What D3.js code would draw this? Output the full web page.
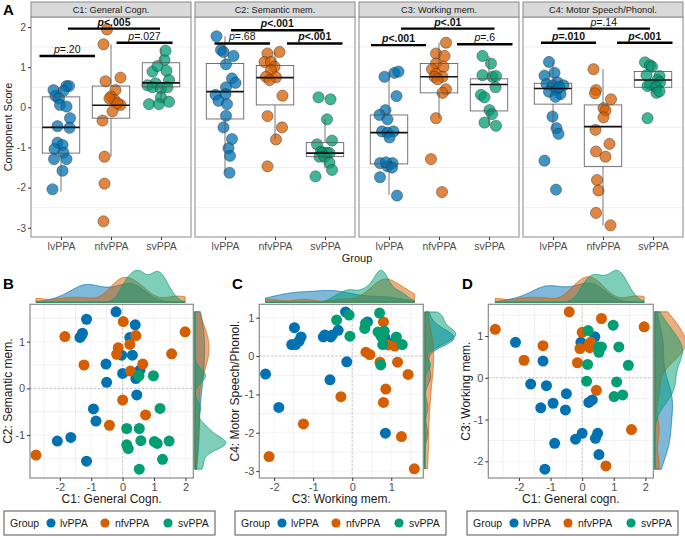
<!DOCTYPE html>
<html><head><meta charset="utf-8">
<script src="https://cdn.jsdelivr.net/npm/d3@7"></script>
<style>
body{margin:0;background:#fff}
svg{display:block}
text{font-family:"Liberation Sans",Arial,sans-serif}
</style>
</head><body>
<svg id="chart" width="685" height="538"></svg>
<script>
// ---------------- DATA ----------------
const groups = ["lvPPA", "nfvPPA", "svPPA"];
const components = ["C1: General Cogn.", "C2: Semantic mem.", "C3: Working mem.", "C4: Motor Speech/Phonol."];
const scoreTicks = [-3, -2, -1, 0, 1, 2];

// Panel A: component scores per group (values) and horizontal jitter (in group units)
const c1Lv = [0.43,0.53,0.53,0.41,0.28,0.22,0.06,0.02,-0.27,-0.47,-0.51,-0.88,-0.94,-1.04,-1.13,-1.29,-1.29,-1.58,-2.04];
const c1LvJit = [-0.15,0.11,0.16,0.05,-0.11,-0.04,-0.02,0.11,0.18,-0.07,0.17,-0.07,0.03,-0.13,0.05,-0.14,0.11,0.03,-0.17];
const c1Nfv = [1.94,1.57,0.65,0.74,0.43,0.27,0.18,0.06,-0.1,-0.33,-1.23,-1.9,-2.84,0.22,0.1];
const c1NfvJit = [-0.08,-0.15,-0.11,0.19,0.09,0,0.07,0.19,0.03,-0.17,-0.13,-0.13,-0.15,-0.03,0.13];
const c1Sv = [0.89,1.18,1.41,1.03,0.91,0.68,0.6,0.55,0.5,0.47,0.5,0.25,0.08,0.08,0.14];
const c1SvJit = [-0.17,0.07,0.09,-0.07,0.11,0.16,-0.11,-0.27,-0.17,0,0.13,0,-0.24,-0.04,0.16];

const c2Lv = [1.77,1.43,1.38,1.28,1.07,0.72,0.61,0.5,0.31,0.33,0.16,0.08,-0.21,-0.5,-0.79,-1.02,-1.21,-1.63];
const c2LvJit = [-0.17,-0.08,-0.03,0.17,0.02,0.14,0.21,0.02,-0.19,0.01,-0.13,0.04,0.02,-0.03,0.14,0.07,0.1,0.09];
const c2Nfv = [1.38,1.34,1.13,1.13,1.01,0.93,0.76,0.75,0.68,0.29,-0.22,-0.5,-0.8,-1.47];
const c2NfvJit = [0.09,-0.15,-0.21,-0.08,-0.01,-0.08,-0.18,0.02,-0.11,0.15,-0.15,0.14,0.02,-0.15];
const c2Sv = [0.25,0.2,-0.3,-0.92,-0.83,-1.1,-1.14,-1.13,-1.14,-1.23,-1.23,-1.38,-1.56,-1.72];
const c2SvJit = [-0.13,0.11,0.04,-0.16,0.14,-0.08,-0.05,0.04,0.09,-0.11,-0.01,0.09,0.14,-0.19];

const c3Lv = [0.76,0.86,0.89,0.28,-0.07,-0.19,-0.3,-0.6,-0.63,-0.6,-0.75,-1.39,-1.47,-1.39,-1.37,-1.5,-1.74,-2.2];
const c3LvJit = [-0.09,0.11,0.19,0.15,-0.07,-0.19,-0.03,-0.14,-0.03,0.09,0.01,-0.18,-0.03,0.07,-0.06,0.06,-0.18,0.16];
const c3Nfv = [1.61,1.34,1.28,1.09,1.01,0.95,0.83,0.76,0.76,0.7,0.45,0.36,-0.27,-1.29,-2.11];
const c3NfvJit = [0.14,-0.06,0.11,-0.06,0.09,-0.14,-0.06,0.07,-0.09,-0.03,0.14,0.07,-0.06,-0.16,0.06];
const c3Sv = [1.28,1.09,0.8,0.76,0.78,0.5,0.31,0.25,-0.07,-0.17,-0.38,-0.46];
const c3SvJit = [-0.13,0.04,-0.13,0.07,0.14,0.13,-0.16,-0.09,0.01,0.06,-0.09,0.14];

const c4Lv = [1.13,0.79,0.86,0.58,0.62,0.55,0.55,0.39,0.43,0.33,0.26,0.5,-0.23,-0.52,-0.66,-1.33,-2.05];
const c4LvJit = [-0.08,-0.17,0.03,-0.13,0.09,-0.01,0.21,-0.08,0.07,0.15,0.05,0.12,-0.01,0.07,0.11,-0.17,0.06];
const c4Nfv = [0.95,0.43,0.35,0.2,-0.02,-0.08,-0.25,-0.56,-0.91,-1.1,-1.23,-1.81,-2.07,-2.63,-2.94];
const c4NfvJit = [-0.19,-0.14,-0.16,0.16,0.01,0.05,0.01,-0.15,0.13,-0.14,0.05,-0.12,-0.09,-0.14,0.15];
const c4Sv = [1.12,1.05,1.01,0.8,0.78,0.68,0.62,0.57,0.53,0.5,0.36,0.4,-0.27];
const c4SvJit = [-0.16,-0.06,-0.02,-0.13,0.13,0.09,0.14,-0.06,-0.11,0.06,0.07,0.13,-0.11];

// Box statistics [lower whisker, Q1, median, Q3, upper whisker] per group
const boxC1 = [[-2.1,-1.14,-0.5,0.26,0.53],[-1.23,-0.27,0.05,0.53,1.57],[0.12,0.51,0.61,1.11,1.47]];
const boxC2 = [[-1.63,-0.29,0.39,1.09,1.77],[-0.8,0.06,0.74,1.04,1.38],[-1.52,-1.23,-1.14,-0.88,-0.3]];
const boxC3 = [[-2.18,-1.41,-0.63,-0.19,0.89],[-0.27,0.36,0.76,1.09,1.61],[-0.46,-0.09,0.57,0.71,1.28]];
const boxC4 = [[-0.66,0.08,0.47,0.6,1.13],[-2.94,-1.47,-0.48,0.06,0.95],[0.36,0.5,0.68,0.89,1.12]];

// Significance brackets: [from (group units), to, score level, p text, bold]
const sigC1 = [[0.57,1.68,1.28,"=.20",false],[1.14,2.98,1.96,"<.005",true],[2.11,3.23,1.61,"=.027",false]];
const sigC2 = [[0.79,1.9,1.59,"=.68",false],[1.12,2.97,1.92,"<.001",true],[2.24,3.35,1.59,"<.001",true]];
const sigC3 = [[0.64,1.74,1.55,"<.001",true],[1.24,3.11,1.96,"<.01",true],[2.36,3.47,1.57,"=.6",false]];
const sigC4 = [[0.76,1.86,1.61,"=.010",true],[1.09,2.94,1.96,"=.14",false],[2.28,3.39,1.61,"<.001",true]];

// Panel B: C1 (x) vs C2 (y)
const bLv = [[-0.21,1.64],[-1.15,1.48],[0.4,1.36],[-1.28,1.18],[-1.3,1.14],[-1.36,1.09],[0.23,1.09],[-0.03,0.71],[0.31,0.71],[-0.53,0.52],[0,0.32],[0.55,0.39],[0.42,0.21],[-0.51,0.13],[0.45,-0.14],[-0.93,-0.44],[-0.85,-0.7],[-1.65,-1.05],[-2.08,-1.13],[-1.15,-1.56]];
const bNfv = [[0.02,1.43],[-1.84,1.11],[1.99,1.21],[0.42,1.13],[0.23,0.94],[-0.14,0.87],[-0.19,0.73],[1.56,0.74],[-1.23,0.5],[0.64,0.52],[0.25,0.37],[0,-0.25],[0.73,-0.57],[-0.42,-0.79],[-2.76,-1.43]];
const bSv = [[0.98,0.27],[0.52,0.27],[1.19,-0.43],[0.53,-0.86],[0.13,-0.86],[0.58,-1.12],[0.13,-1.21],[0.18,-1.29],[1.01,-1.14],[1.1,-1.18],[1.48,-1.13],[1.27,-1.52],[0.53,-1.73]];

// Panel C: C3 (x) vs C4 (y)
const cLv = [[-0.17,1.15],[-1.48,0.74],[-1.31,0.5],[-1.36,0.39],[-1.55,0.3],[-1.45,0.3],[-0.74,0.5],[-0.7,0.55],[-0.55,0.5],[-0.51,0.55],[-0.36,0.67],[0.39,0.89],[0.84,0.48],[1.01,0.33],[-0.14,-0.15],[-2.22,-0.47],[-0.57,-0.62],[-1.88,-1.34],[0.85,-2.01]];
const cNfv = [[0.8,0.89],[0.73,0.55],[0.92,0.29],[1.09,0.26],[0.35,0.1],[0.45,0.04],[0.71,-0.16],[1.16,-0.16],[1.43,-0.48],[0.86,-0.86],[-0.29,-1.06],[0.8,-1.21],[-1.25,-1.77],[1.26,-2.1],[-2.13,-2.62],[1.59,-2.94]];
const cSv = [[-0.4,0.94],[-0.08,1.07],[-0.06,0.52],[0.34,0.85],[0.32,0.72],[0.66,0.63],[0.7,1.12],[0.82,0.65],[0.75,0.5],[0.78,0.3],[1.13,0.5],[1.28,0.3],[0.73,-0.23]];

// Panel D: C1 (x) vs C3 (y)
const dLv = [[0.4,0.98],[-0.04,0.85],[-2.11,0.85],[-1.24,0.4],[-1.63,-0.15],[-1.13,-0.19],[-0.5,-0.38],[-0.92,-0.61],[-1.31,-0.72],[-0.53,-0.77],[0.32,-0.53],[0.21,-0.59],[0,-1.33],[-0.21,-1.47],[0.49,-1.33],[0.42,-1.45],[-0.87,-1.57],[0.53,-1.84],[-1.18,-2.19]];
const dNfv = [[-0.41,1.58],[0.61,1.42],[-2.75,1.16],[1.96,1.22],[0,1.09],[0.27,0.85],[-1.24,0.77],[-0.07,0.7],[0.24,0.72],[-1.84,0.42],[-0.15,0.36],[0.45,-0.3],[1.56,-1.24],[0.75,-2.11],[0.22,0.8]];
const dSv = [[0.19,1.13],[0.98,1.26],[0.53,0.74],[0.61,0.74],[0.53,0.61],[1.16,0.74],[0.17,0.32],[1.46,0.3],[0.14,-0.08],[1.09,-0.1],[1.01,-0.45],[1.28,-0.41]];

// ---------------- STYLE / LAYOUT ----------------
const COLORS = {lvPPA: "#0072B2", nfvPPA: "#D55E00", svPPA: "#009E73"};
const GRID = "#ebebeb", BORDER = "#8a8a8a", TICKTXT = "#4d4d4d";
const svg = d3.select("#chart");
svg.append("rect").attr("width", 685).attr("height", 538).attr("fill", "#fff");

function halfLines(dom) {
  const out = [];
  for (let v = Math.floor(dom[0]) + 0.5; v <= dom[1]; v += 1) if (v >= dom[0]) out.push(v);
  return out;
}

// ---------------- PANEL A ----------------
const facetData = [
  {vals: [c1Lv, c1Nfv, c1Sv], jit: [c1LvJit, c1NfvJit, c1SvJit], box: boxC1, sig: sigC1},
  {vals: [c2Lv, c2Nfv, c2Sv], jit: [c2LvJit, c2NfvJit, c2SvJit], box: boxC2, sig: sigC2},
  {vals: [c3Lv, c3Nfv, c3Sv], jit: [c3LvJit, c3NfvJit, c3SvJit], box: boxC3, sig: sigC3},
  {vals: [c4Lv, c4Nfv, c4Sv], jit: [c4LvJit, c4NfvJit, c4SvJit], box: boxC4, sig: sigC4}
];
const aLeft = 31, facetW = 160, facetGap = 4, aTop = 17, aBottom = 237, stripTop = 2;
const yA = d3.scaleLinear().domain([-3.23, 2.25]).range([aBottom, aTop]);

facetData.forEach((f, i) => {
  const x0 = aLeft + i * (facetW + facetGap);
  const xA = d3.scaleLinear().domain([0.4, 3.6]).range([x0, x0 + facetW]);
  const g = svg.append("g");
  g.append("rect").attr("x", x0).attr("y", aTop).attr("width", facetW).attr("height", aBottom - aTop).attr("fill", "#fff");
  g.selectAll("line.grid").data(halfLines(yA.domain())).join("line")
    .attr("x1", x0).attr("x2", x0 + facetW).attr("y1", d => yA(d)).attr("y2", d => yA(d))
    .attr("stroke", GRID).attr("stroke-width", 0.8);
  // points
  groups.forEach((grp, gi) => {
    g.selectAll(null).data(f.vals[gi].map((v, k) => [gi + 1 + f.jit[gi][k], v])).join("circle")
      .attr("cx", d => xA(d[0])).attr("cy", d => yA(d[1])).attr("r", 5.6)
      .attr("fill", COLORS[grp]).attr("fill-opacity", 0.75)
      .attr("stroke", "#1f1f1f").attr("stroke-opacity", 0.55).attr("stroke-width", 0.7);
  });
  // boxes
  const bw = 0.75;
  f.box.forEach((b, gi) => {
    const c = gi + 1;
    const bx = xA(c - bw / 2), bwid = xA(c + bw / 2) - xA(c - bw / 2);
    g.append("line").attr("x1", xA(c)).attr("x2", xA(c)).attr("y1", yA(b[0])).attr("y2", yA(b[1])).attr("stroke", "#555").attr("stroke-width", 0.8);
    g.append("line").attr("x1", xA(c)).attr("x2", xA(c)).attr("y1", yA(b[3])).attr("y2", yA(b[4])).attr("stroke", "#555").attr("stroke-width", 0.8);
    g.append("rect").attr("x", bx).attr("y", yA(b[3])).attr("width", bwid).attr("height", yA(b[1]) - yA(b[3]))
      .attr("fill", "none").attr("stroke", "#555").attr("stroke-width", 0.8);
    g.append("line").attr("x1", bx).attr("x2", bx + bwid).attr("y1", yA(b[2])).attr("y2", yA(b[2])).attr("stroke", "#111").attr("stroke-width", 1.6);
  });
  // significance brackets
  f.sig.forEach(s => {
    g.append("line").attr("x1", xA(s[0])).attr("x2", xA(s[1])).attr("y1", yA(s[2])).attr("y2", yA(s[2]))
      .attr("stroke", "#000").attr("stroke-width", 2.4);
    const t = g.append("text").attr("x", (xA(s[0]) + xA(s[1])) / 2).attr("y", yA(s[2]) - 3)
      .attr("text-anchor", "middle").attr("font-size", 10.5).attr("fill", "#111")
      .attr("font-weight", s[4] ? "bold" : "normal");
    t.append("tspan").attr("font-style", "italic").text("p");
    t.append("tspan").text(s[3]);
  });
  // border
  g.append("rect").attr("x", x0).attr("y", aTop).attr("width", facetW).attr("height", aBottom - aTop)
    .attr("fill", "none").attr("stroke", BORDER).attr("stroke-width", 1);
  // strip
  g.append("rect").attr("x", x0).attr("y", stripTop).attr("width", facetW).attr("height", aTop - stripTop)
    .attr("fill", "#d9d9d9").attr("stroke", BORDER).attr("stroke-width", 1);
  g.append("text").attr("x", x0 + facetW / 2).attr("y", stripTop + 11.3).attr("text-anchor", "middle")
    .attr("font-size", 9.2).attr("fill", "#1a1a1a").text(components[i]);
  // x axis
  const ax = d3.axisBottom(xA).tickValues([1, 2, 3]).tickFormat(d => groups[d - 1]).tickSize(3).tickPadding(3);
  const axg = g.append("g").attr("transform", `translate(0,${aBottom})`).call(ax);
  axg.select(".domain").remove();
  axg.selectAll("line").attr("stroke", "#333");
  axg.selectAll("text").attr("font-size", 10.5).attr("fill", TICKTXT).attr("font-family", "Liberation Sans, Arial, sans-serif");
});
// y axis for A
{
  const ay = d3.axisLeft(yA).tickValues(scoreTicks).tickFormat(d => String(d)).tickSize(3).tickPadding(2);
  const ag = svg.append("g").attr("transform", `translate(${aLeft},0)`).call(ay);
  ag.select(".domain").remove();
  ag.selectAll("line").attr("stroke", "#333");
  ag.selectAll("text").attr("font-size", 10.5).attr("fill", TICKTXT).attr("font-family", "Liberation Sans, Arial, sans-serif");
  svg.append("text").attr("transform", `translate(12,${(aTop + aBottom) / 2}) rotate(-90)`)
    .attr("text-anchor", "middle").attr("font-size", 11).attr("fill", "#1a1a1a").text("Component Score");
  svg.append("text").attr("x", 357).attr("y", 262).attr("text-anchor", "middle")
    .attr("font-size", 11).attr("fill", "#1a1a1a").text("Group");
}

// ---------------- SCATTER PANELS ----------------
function kde(values, grid) {
  const s = values.slice().sort(d3.ascending);
  const sd = d3.deviation(s);
  const iqr = d3.quantile(s, 0.75) - d3.quantile(s, 0.25);
  const bw = 0.9 * Math.min(sd, iqr / 1.34) * Math.pow(s.length, -0.2);
  return grid.map(g => [g, d3.mean(s, v => Math.exp(-0.5 * ((g - v) / bw) ** 2) / Math.sqrt(2 * Math.PI)) / bw]);
}

function drawScatter(p) {
  const x = d3.scaleLinear().domain(p.xDomain).range([p.left, p.right]);
  const y = d3.scaleLinear().domain(p.yDomain).range([p.bottom, p.top]);
  const g = svg.append("g");
  g.append("rect").attr("x", p.left).attr("y", p.top).attr("width", p.right - p.left).attr("height", p.bottom - p.top).attr("fill", "#fff");
  g.selectAll(null).data(halfLines(p.xDomain)).join("line")
    .attr("x1", d => x(d)).attr("x2", d => x(d)).attr("y1", p.top).attr("y2", p.bottom).attr("stroke", GRID).attr("stroke-width", 0.8);
  g.selectAll(null).data(halfLines(p.yDomain)).join("line")
    .attr("y1", d => y(d)).attr("y2", d => y(d)).attr("x1", p.left).attr("x2", p.right).attr("stroke", GRID).attr("stroke-width", 0.8);
  g.selectAll(null).data(p.xTicks).join("line")
    .attr("x1", d => x(d)).attr("x2", d => x(d)).attr("y1", p.top).attr("y2", p.bottom).attr("stroke", "#f3f3f3").attr("stroke-width", 0.8);
  g.selectAll(null).data(p.yTicks).join("line")
    .attr("y1", d => y(d)).attr("y2", d => y(d)).attr("x1", p.left).attr("x2", p.right).attr("stroke", "#f3f3f3").attr("stroke-width", 0.8);
  // zero reference lines
  g.append("line").attr("x1", x(0)).attr("x2", x(0)).attr("y1", p.top).attr("y2", p.bottom)
    .attr("stroke", "#b0b0b0").attr("stroke-dasharray", "2,2").attr("stroke-width", 0.8);
  g.append("line").attr("y1", y(0)).attr("y2", y(0)).attr("x1", p.left).attr("x2", p.right)
    .attr("stroke", "#b0b0b0").attr("stroke-dasharray", "2,2").attr("stroke-width", 0.8);
  // points
  p.sets.forEach((set, gi) => {
    g.selectAll(null).data(set).join("circle")
      .attr("cx", d => x(d[0])).attr("cy", d => y(d[1])).attr("r", 5.5)
      .attr("fill", COLORS[groups[gi]]);
  });
  g.append("rect").attr("x", p.left).attr("y", p.top).attr("width", p.right - p.left).attr("height", p.bottom - p.top)
    .attr("fill", "none").attr("stroke", BORDER).attr("stroke-width", 1.2);
  // axes
  const ax = d3.axisBottom(x).tickValues(p.xTicks).tickFormat(d => String(d)).tickSize(3).tickPadding(2);
  const axg = g.append("g").attr("transform", `translate(0,${p.bottom})`).call(ax);
  axg.select(".domain").remove();
  axg.selectAll("line").attr("stroke", "#333");
  axg.selectAll("text").attr("font-size", 11).attr("fill", TICKTXT).attr("font-family", "Liberation Sans, Arial, sans-serif");
  const ay = d3.axisLeft(y).tickValues(p.yTicks).tickFormat(d => String(d)).tickSize(3).tickPadding(2);
  const ayg = g.append("g").attr("transform", `translate(${p.left},0)`).call(ay);
  ayg.select(".domain").remove();
  ayg.selectAll("line").attr("stroke", "#333");
  ayg.selectAll("text").attr("font-size", 11).attr("fill", TICKTXT).attr("font-family", "Liberation Sans, Arial, sans-serif");
  g.append("text").attr("x", (p.left + p.right) / 2).attr("y", p.bottom + 25).attr("text-anchor", "middle")
    .attr("font-size", 12).attr("fill", "#1a1a1a").text(p.xTitle);
  g.append("text").attr("transform", `translate(${p.yTitleX},${(p.top + p.bottom) / 2}) rotate(-90)`)
    .attr("text-anchor", "middle").attr("font-size", 12).attr("fill", "#1a1a1a").text(p.yTitle);
  g.append("text").attr("x", p.labelX).attr("y", 289).attr("font-size", 15).attr("font-weight", "bold").attr("fill", "#000").text(p.label);

  // marginal densities
  const allX = p.sets.flat().map(d => d[0]), allY = p.sets.flat().map(d => d[1]);
  const gx = d3.range(0, 201).map(k => d3.min(allX) + (d3.max(allX) - d3.min(allX)) * k / 200);
  const gy = d3.range(0, 201).map(k => d3.min(allY) + (d3.max(allY) - d3.min(allY)) * k / 200);
  const kx = p.sets.map(s => kde(s.map(d => d[0]), gx));
  const ky = p.sets.map(s => kde(s.map(d => d[1]), gy));
  const maxX = d3.max(kx.flat(), d => d[1]), maxY = d3.max(ky.flat(), d => d[1]);
  const base = p.top - 2, h = 32;
  const hx = d3.scaleLinear().domain([0, maxX]).range([base, base - h]);
  kx.forEach((dens, gi) => {
    g.append("path").datum(dens)
      .attr("d", d3.area().x(d => x(d[0])).y0(base).y1(d => hx(d[1])))
      .attr("fill", COLORS[groups[gi]]).attr("fill-opacity", 0.5)
      .attr("stroke", COLORS[groups[gi]]).attr("stroke-width", 0.7);
  });
  const rb = p.right + 1.5;
  const wy = d3.scaleLinear().domain([0, maxY]).range([rb, rb + 31]);
  ky.forEach((dens, gi) => {
    g.append("path").datum(dens)
      .attr("d", d3.area().y(d => y(d[0])).x0(rb).x1(d => wy(d[1])))
      .attr("fill", COLORS[groups[gi]]).attr("fill-opacity", 0.5)
      .attr("stroke", COLORS[groups[gi]]).attr("stroke-width", 0.7);
  });

  // legend
  const lx = p.legendX, ly = 511;
  const lg = svg.append("g");
  lg.append("rect").attr("x", lx).attr("y", ly).attr("width", 211).attr("height", 24)
    .attr("fill", "#fff").attr("stroke", "#555").attr("stroke-width", 1);
  lg.append("text").attr("x", lx + 6).attr("y", ly + 16).attr("font-size", 10.5).attr("fill", "#1a1a1a").text("Group");
  const dotX = [47, 101, 164], labX = [56, 111, 174];
  groups.forEach((grp, gi) => {
    lg.append("circle").attr("cx", lx + dotX[gi]).attr("cy", ly + 12).attr("r", 4.6).attr("fill", COLORS[grp]);
    lg.append("text").attr("x", lx + labX[gi]).attr("y", ly + 16).attr("font-size", 10.5).attr("fill", "#1a1a1a").text(grp);
  });
}

drawScatter({label: "B", labelX: 3, left: 30, right: 193.3, top: 304.3, bottom: 478,
  xDomain: [-2.95, 2.25], yDomain: [-1.92, 1.8], xTicks: [-2, -1, 0, 1, 2], yTicks: [-1, 0, 1],
  sets: [bLv, bNfv, bSv], xTitle: "C1: General Cogn.", yTitle: "C2: Semantic mem.", yTitleX: 12, legendX: 4});
drawScatter({label: "C", labelX: 232, left: 259.3, right: 423.3, top: 304.3, bottom: 478,
  xDomain: [-2.38, 1.82], yDomain: [-3.18, 1.35], xTicks: [-2, -1, 0, 1], yTicks: [-3, -2, -1, 0, 1],
  sets: [cLv, cNfv, cSv], xTitle: "C3: Working mem.", yTitle: "C4: Motor Speech/Phonol.", yTitleX: 239, legendX: 235});
drawScatter({label: "D", labelX: 462, left: 488.3, right: 653.3, top: 304.3, bottom: 478,
  xDomain: [-2.97, 2.25], yDomain: [-2.4, 1.76], xTicks: [-2, -1, 0, 1, 2], yTicks: [-2, -1, 0, 1],
  sets: [dLv, dNfv, dSv], xTitle: "C1: General cogn.", yTitle: "C3: Working mem.", yTitleX: 470, legendX: 467});

svg.append("text").attr("x", 3).attr("y", 15).attr("font-size", 15).attr("font-weight", "bold").attr("fill", "#000").text("A");
</script>
</body></html>
